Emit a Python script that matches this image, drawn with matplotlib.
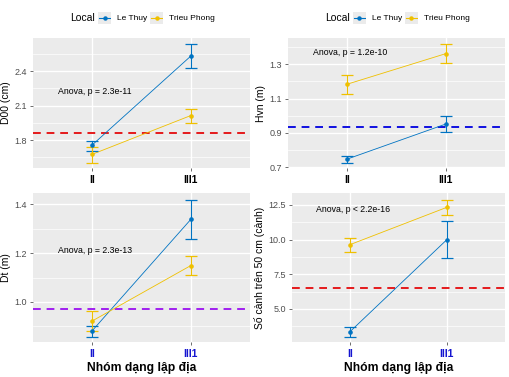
import matplotlib
matplotlib.use("Agg")
import matplotlib.pyplot as plt
from matplotlib.ticker import FixedLocator

plt.rcParams['font.family'] = ['Liberation Sans', 'DejaVu Sans']

W, H = 510, 377
groups = ['II', 'III1']
locals_ = ['Le Thuy', 'Trieu Phong']
colors = {'Le Thuy': '#0073C2', 'Trieu Phong': '#EFC000'}

# D00 (cm)
d00_mean = {'Le Thuy': [1.757, 2.53], 'Trieu Phong': [1.676, 2.013]}
d00_lo = {'Le Thuy': [1.707, 2.423], 'Trieu Phong': [1.597, 1.95]}
d00_hi = {'Le Thuy': [1.791, 2.632], 'Trieu Phong': [1.742, 2.071]}
d00_ref = 1.858

# Hvn (m)
hvn_mean = {'Le Thuy': [0.748, 0.952], 'Trieu Phong': [1.184, 1.362]}
hvn_lo = {'Le Thuy': [0.723, 0.904], 'Trieu Phong': [1.125, 1.31]}
hvn_hi = {'Le Thuy': [0.766, 1.001], 'Trieu Phong': [1.24, 1.417]}
hvn_ref = 0.935

# Dt (m)
dt_mean = {'Le Thuy': [0.882, 1.338], 'Trieu Phong': [0.922, 1.149]}
dt_lo = {'Le Thuy': [0.856, 1.257], 'Trieu Phong': [0.883, 1.11]}
dt_hi = {'Le Thuy': [0.901, 1.418], 'Trieu Phong': [0.961, 1.189]}
dt_ref = 0.973

# So canh tren 50 cm
sc_mean = {'Le Thuy': [3.37, 10.0], 'Trieu Phong': [9.64, 12.33]}
sc_lo = {'Le Thuy': [3.0, 8.68], 'Trieu Phong': [9.11, 11.78]}
sc_hi = {'Le Thuy': [3.68, 11.32], 'Trieu Phong': [10.12, 12.86]}
sc_ref = 6.49

fig = plt.figure(figsize=(W / 100, H / 100), dpi=100)
fig.patch.set_facecolor('white')


def box(x0, y0, x1, y1):
    return [x0 / W, 1 - y1 / H, (x1 - x0) / W, (y1 - y0) / H]


def panel(rect, mean, lo, hi, ref, refcol, ylab, ylim, ticks, ticklabs,
          anova, anova_y, bottom):
    ax = fig.add_axes(rect)
    ax.set_facecolor('#EBEBEB')
    for s in ax.spines.values():
        s.set_visible(False)
    ax.set_xlim(0.4, 2.6)
    ax.set_ylim(*ylim)
    ax.yaxis.set_major_locator(FixedLocator(ticks))
    step = ticks[1] - ticks[0]
    minors = [ticks[0] - step / 2] + [t + step / 2 for t in ticks]
    ax.yaxis.set_minor_locator(FixedLocator(minors))
    ax.set_yticklabels(ticklabs)
    ax.set_xticks([1, 2])
    ax.grid(which='major', color='white', lw=1.0)
    ax.grid(which='minor', axis='y', color='white', lw=0.5)
    ax.set_axisbelow(True)
    ax.tick_params(which='major', length=2.5, width=0.5, color='#333333',
                   labelsize=6.5, labelcolor='#4D4D4D', pad=2)
    ax.tick_params(which='minor', length=0)
    ax.tick_params(axis='x', pad=2.5, labelsize=7.5,
                   labelcolor='#1515D0' if bottom else 'black')
    ax.set_xticklabels(groups, fontweight='bold')
    x = [1, 2]
    for loc in locals_:
        c = colors[loc]
        ax.plot(x, mean[loc], color=c, lw=0.6, zorder=3)
        err = [[m - l for m, l in zip(mean[loc], lo[loc])],
               [h - m for m, h in zip(mean[loc], hi[loc])]]
        ax.errorbar(x, mean[loc], yerr=err, fmt='o', ms=2.3, color=c,
                    ecolor=c, elinewidth=0.8, capsize=4.5, capthick=0.9,
                    zorder=4)
    ax.axhline(ref, color=refcol, lw=1.4, ls=(0, (4, 3)), zorder=2)
    ax.text(0.65, anova_y, anova, fontsize=6.3, ha='left', va='center',
            color='black')
    ax.set_ylabel(ylab, fontsize=7.5, color='black', labelpad=2)
    if bottom:
        ax.set_xlabel('Nhóm dạng lập địa', fontsize=8.7, fontweight='bold',
                      labelpad=2.5)
    return ax


panel(box(33, 38, 250, 168), d00_mean, d00_lo, d00_hi, d00_ref, '#E41A1C',
      'D00 (cm)', (1.557, 2.687), [1.8, 2.1, 2.4], ['1.8', '2.1', '2.4'],
      'Anova, p = 2.3e-11', 2.224, False)
panel(box(288, 38, 505, 168), hvn_mean, hvn_lo, hvn_hi, hvn_ref, '#1010E0',
      'Hvn (m)', (0.696, 1.453), [0.7, 0.9, 1.1, 1.3],
      ['0.7', '0.9', '1.1', '1.3'], 'Anova, p = 1.2e-10', 1.368, False)
panel(box(33, 193, 250, 342), dt_mean, dt_lo, dt_hi, dt_ref, '#A020F0',
      'Dt (m)', (0.836, 1.446), [1.0, 1.2, 1.4], ['1.0', '1.2', '1.4'],
      'Anova, p = 2.3e-13', 1.21, True)
panel(box(292, 193, 505, 342), sc_mean, sc_lo, sc_hi, sc_ref, '#E41A1C',
      'Số cành trên 50 cm (cành)', (2.62, 13.36), [5.0, 7.5, 10.0, 12.5],
      ['5.0', '7.5', '10.0', '12.5'], 'Anova, p < 2.2e-16', 12.14, True)

# legends above the top panels
for off in (0, 255):
    fig.text((70 + off) / W, 1 - 18 / H, 'Local', fontsize=7.5,
             ha='left', va='center')
    for i, loc in enumerate(locals_):
        kx = [98, 150][i] + off
        kax = fig.add_axes(box(kx, 12, kx + 13, 24))
        kax.set_facecolor('#EBEBEB')
        for s in kax.spines.values():
            s.set_visible(False)
        kax.set_xticks([])
        kax.set_yticks([])
        kax.set_xlim(0, 1)
        kax.set_ylim(0, 1)
        kax.plot([0.1, 0.9], [0.5, 0.5], color=colors[loc], lw=0.8)
        kax.plot([0.5], [0.5], 'o', color=colors[loc], ms=2.2)
        fig.text((kx + 19) / W, 1 - 18 / H, loc, fontsize=6,
                 ha='left', va='center')

fig.savefig('out.png', dpi=100)
